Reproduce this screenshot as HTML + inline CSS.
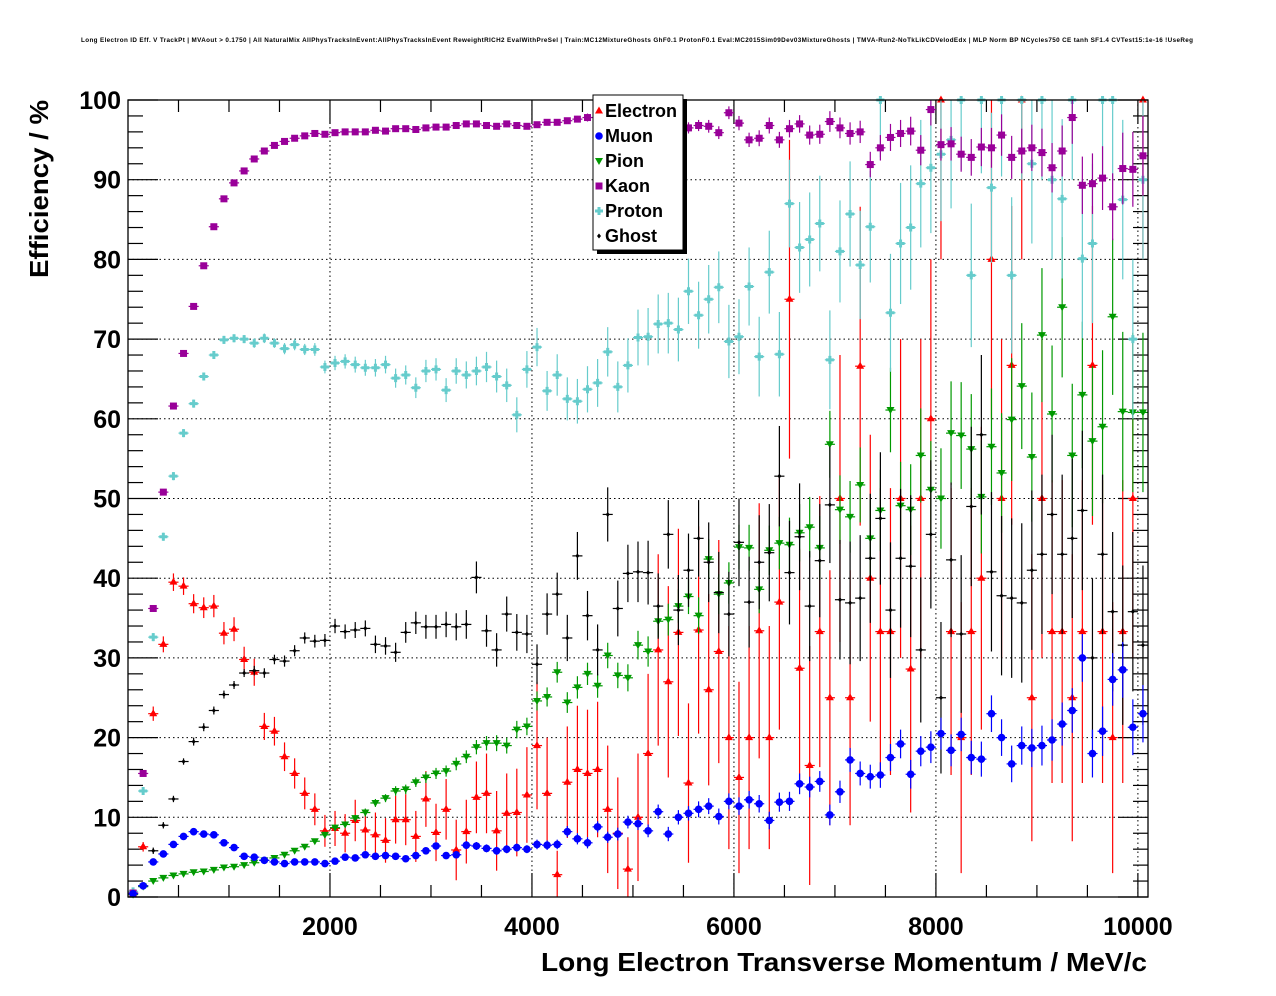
<!DOCTYPE html>
<html><head><meta charset="utf-8">
<style>
html,body{margin:0;padding:0;background:#fff;}
svg{display:block;font-family:"Liberation Sans",Arial,sans-serif;}
</style></head>
<body>
<svg id="chart" width="1276" height="996" viewBox="0 0 1276 996" xmlns="http://www.w3.org/2000/svg">
<text x="637" y="42" font-size="6.3" font-weight="bold" text-anchor="middle" textLength="1112">Long Electron ID Eff. V TrackPt | MVAout &gt; 0.1750 | All NaturalMix AllPhysTracksInEvent:AllPhysTracksInEvent ReweightRICH2 EvalWithPreSel | Train:MC12MixtureGhosts GhF0.1 ProtonF0.1 Eval:MC2015Sim09Dev03MixtureGhosts | TMVA-Run2-NoTkLikCDVelodEdx | MLP Norm BP NCycles750 CE tanh SF1.4 CVTest15:1e-16 !UseReg</text>
<g id="grid"></g>
<g id="axes"></g>
<g id="series"></g>
<rect x="128" y="100" width="1020" height="797" fill="none" stroke="#000" stroke-width="1.3"/>
<text transform="translate(48,278) rotate(-90)" font-size="26" font-weight="bold" textLength="178" lengthAdjust="spacingAndGlyphs">Efficiency / %</text>
<text x="541" y="971" font-size="26" font-weight="bold" textLength="606" lengthAdjust="spacingAndGlyphs">Long Electron Transverse Momentum / MeV/c</text>
<g id="legend">
<rect x="597" y="99" width="90" height="155" fill="#000"/>
<rect x="593" y="95" width="90" height="155" fill="#fff" stroke="#000" stroke-width="1"/>
</g>
</svg>
<script>
const xMin = 0, xMax = 10100, yMin = 0, yMax = 100;
const binWidth = 100;
const xTicks = [2000, 4000, 6000, 8000, 10000];
const xTickLabels = ["2000", "4000", "6000", "8000", "10000"];
const yTicks = [0, 10, 20, 30, 40, 50, 60, 70, 80, 90, 100];
const yTickLabels = ["0", "10", "20", "30", "40", "50", "60", "70", "80", "90", "100"];
const seriesNames = ["Electron", "Muon", "Pion", "Kaon", "Proton", "Ghost"];

const electron = [0.4,6.3,23.0,31.7,39.5,39.0,36.8,36.3,36.5,33.1,33.6,29.8,28.2,21.4,20.8,17.6,15.5,13.0,11.0,8.3,8.6,8.0,9.6,8.4,7.8,7.1,9.7,9.7,7.6,12.3,8.1,11.0,5.9,8.2,12.5,13.0,8.3,10.5,10.6,12.8,19.0,13.0,2.8,14.4,16.0,15.5,16.0,11.0,8.0,3.5,10.0,18.0,31.0,27.0,33.2,14.3,33.5,26.0,30.8,20.0,15.0,20.0,33.4,20.0,37.0,75.0,28.7,16.5,33.3,25.0,50.0,25.0,66.6,40.0,33.3,33.3,50.0,28.6,50.0,60.0,100,33.3,20.0,33.3,40.0,80.0,50.0,66.7,100,25.0,50.0,33.3,33.3,25.0,33.3,66.7,33.3,20.0,33.3,50.0,100];
const electronErr = [0.3,0.6,0.9,1.0,1.1,1.1,1.2,1.3,1.4,1.4,1.5,1.6,1.7,1.7,1.8,1.8,1.9,2.0,2.0,2.0,2.2,2.4,2.6,2.6,2.8,2.8,3.0,3.2,3.2,3.5,3.6,3.8,3.8,4.0,4.5,5.0,5.0,5.0,5.5,6.0,8.0,7.0,3.0,7.0,8.0,8.0,8.5,8.0,7.0,4.0,8.0,10,12,12,13,10,13,12,14,14,12,14,16,14,16,20,15,15,17,16,18,16,20,18,18,18,20,18,20,20,20,18,17,18,19,20,20,20,20,18,20,19,19,18,19,20,19,17,19,20,20];
const muon = [0.4,1.4,4.4,5.4,6.6,7.6,8.2,7.9,7.8,6.8,6.2,5.1,5.0,4.6,4.4,4.2,4.4,4.4,4.4,4.2,4.5,5.0,4.9,5.3,5.1,5.2,5.1,4.8,5.2,5.8,6.4,5.2,5.3,6.5,6.4,6.1,5.8,6.0,6.2,6.0,6.6,6.5,6.6,8.2,7.3,6.8,8.8,7.5,7.9,9.4,9.2,8.3,10.7,7.9,10.0,10.5,11.0,11.4,10.1,12.0,11.4,12.2,11.7,9.6,11.9,12.0,14.2,13.8,14.5,10.3,13.2,17.2,15.5,15.1,15.3,17.5,19.2,15.4,18.3,18.8,20.5,18.4,20.4,17.5,17.3,23.0,20.0,16.7,19.0,18.7,19.0,19.7,21.7,23.4,30.0,18.0,20.8,27.3,28.5,21.3,23.0];
const muonErr = [0.2,0.3,0.3,0.3,0.3,0.3,0.3,0.3,0.3,0.3,0.3,0.3,0.3,0.3,0.3,0.3,0.3,0.3,0.3,0.3,0.3,0.3,0.3,0.3,0.3,0.4,0.4,0.4,0.4,0.4,0.4,0.4,0.4,0.5,0.5,0.5,0.5,0.5,0.5,0.5,0.6,0.6,0.6,0.7,0.7,0.7,0.7,0.7,0.8,0.8,0.8,0.8,0.9,0.9,0.9,0.9,1.0,1.0,1.0,1.0,1.1,1.1,1.1,1.1,1.2,1.2,1.3,1.3,1.3,1.3,1.4,1.5,1.5,1.5,1.6,1.7,1.8,1.8,1.9,2.0,2.0,2.0,2.1,2.1,2.2,2.3,2.3,2.3,2.4,2.4,2.5,2.6,2.7,2.8,3.0,3.0,3.1,3.3,3.5,3.5,3.6];
const pion = [0.3,1.3,2.0,2.4,2.7,2.9,3.1,3.2,3.4,3.7,3.8,4.0,4.3,4.6,4.9,5.3,5.8,6.3,7.0,7.8,8.7,9.1,9.9,10.6,11.8,12.4,13.3,13.5,14.4,15.0,15.5,15.8,16.7,17.6,18.8,19.3,19.3,19.0,21.0,21.4,24.6,25.1,28.2,24.4,26.3,28.0,26.5,30.3,27.8,27.5,31.6,30.8,34.6,34.8,36.5,37.7,35.3,42.4,38.0,39.4,43.9,43.8,38.6,43.5,44.4,44.2,45.7,46.4,43.8,56.8,48.6,47.7,51.7,45.0,48.5,61.1,49.1,48.6,55.4,51.1,50.0,58.2,57.9,56.2,50.2,56.5,53.2,59.9,64.1,55.2,70.5,60.6,74.0,55.4,63.0,57.2,59.0,72.8,60.9,60.8,60.8];
const pionErr = [0.1,0.2,0.2,0.2,0.2,0.2,0.2,0.2,0.2,0.2,0.2,0.2,0.2,0.3,0.3,0.3,0.3,0.3,0.3,0.4,0.4,0.4,0.4,0.5,0.5,0.5,0.6,0.6,0.6,0.7,0.7,0.7,0.8,0.8,0.9,0.9,1.0,1.0,1.1,1.1,1.2,1.2,1.3,1.3,1.4,1.4,1.5,1.6,1.6,1.7,1.8,1.9,2.0,2.0,2.1,2.2,2.3,2.5,2.5,2.6,2.8,2.9,3.0,3.1,3.3,3.4,3.6,3.8,4.0,4.2,4.3,4.5,4.7,4.9,5.1,5.3,5.5,5.7,5.9,6.1,6.3,6.5,6.7,6.9,7.1,7.3,7.5,7.7,7.9,8.1,8.4,8.6,8.8,9.0,9.2,9.4,9.6,9.8,10,10,10];
const kaon = [0.5,15.5,36.2,50.8,61.6,68.2,74.1,79.2,84.1,87.6,89.6,91.1,92.6,93.6,94.3,94.8,95.2,95.5,95.8,95.7,95.9,96.0,96.0,96.0,96.2,96.1,96.4,96.4,96.3,96.5,96.6,96.6,96.8,97.0,97.0,96.8,96.7,97.0,96.8,96.7,96.9,97.2,97.2,97.4,97.6,97.8,97.2,97.7,97.9,96.8,97.6,97.5,97.6,97.0,97.4,96.5,96.8,96.7,95.9,98.4,97.1,95.0,95.2,96.8,95.0,96.4,97.0,95.6,95.7,97.3,96.5,95.8,96.0,91.9,94.0,95.3,95.8,96.1,93.7,98.8,94.4,94.5,93.2,92.8,94.1,94.0,95.6,92.8,93.6,94.0,93.4,91.5,93.6,97.8,89.3,89.5,90.2,86.6,91.4,91.3,93.0];
const kaonErr = [0.2,0.3,0.3,0.3,0.3,0.3,0.3,0.3,0.3,0.3,0.3,0.3,0.3,0.3,0.3,0.3,0.3,0.3,0.3,0.3,0.3,0.3,0.3,0.3,0.3,0.3,0.3,0.3,0.3,0.3,0.3,0.3,0.3,0.3,0.3,0.3,0.4,0.4,0.4,0.4,0.4,0.4,0.4,0.4,0.4,0.5,0.5,0.5,0.5,0.5,0.6,0.6,0.6,0.6,0.7,0.7,0.7,0.8,0.8,0.8,0.9,0.9,1.0,1.0,1.0,1.1,1.1,1.2,1.2,1.3,1.3,1.4,1.4,1.6,1.6,1.7,1.7,1.8,1.9,2.0,2.0,2.1,2.2,2.3,2.4,2.5,2.6,2.7,2.8,2.9,3.0,3.1,3.2,3.3,3.6,3.8,4.0,4.2,4.5,4.7,5.0];
const proton = [0.7,13.3,32.6,45.2,52.8,58.2,61.9,65.3,68.0,69.9,70.1,70.0,69.5,70.1,69.5,68.8,69.3,68.7,68.7,66.5,67.0,67.2,66.8,66.4,66.4,66.8,65.1,65.5,63.9,66.0,66.2,63.6,66.0,65.5,66.0,66.5,65.3,64.2,60.5,66.2,69.0,63.5,65.5,62.5,62.2,63.7,64.5,68.4,64.0,66.7,70.2,70.3,71.9,72.0,71.2,76.0,73.0,75.0,76.5,69.7,70.3,76.6,67.8,78.4,68.1,87.0,81.5,82.5,84.5,67.4,81.0,85.7,79.3,84.1,100,73.3,82.0,84.0,89.5,91.5,93.2,95.0,100,78.0,100,89.0,100,78.0,100,92.0,100,90.0,87.6,100,80.1,82.0,100,100,87.5,70.0,90.0];
const protonErr = [0.2,0.4,0.5,0.5,0.5,0.5,0.5,0.5,0.5,0.5,0.5,0.5,0.6,0.6,0.6,0.7,0.7,0.7,0.8,0.8,0.9,0.9,1.0,1.0,1.1,1.1,1.2,1.2,1.3,1.4,1.4,1.5,1.6,1.7,1.8,1.9,2.0,2.1,2.2,2.3,2.4,2.5,2.6,2.7,2.8,2.9,3.0,3.1,3.2,3.4,3.5,3.6,3.7,3.8,4.0,4.1,4.2,4.3,4.5,4.6,4.7,4.9,5.0,5.2,5.3,5.5,5.7,5.9,6.0,6.2,6.4,6.6,6.8,7.0,7.2,7.4,7.6,7.8,8.0,8.2,8.4,8.6,8.8,9.0,9.2,9.4,9.6,9.8,10,10,10,10,10,10,10,10,10,10,10,10,10];
const ghost = [0.5,1.4,5.8,9.0,12.3,17.0,19.5,21.3,23.4,25.4,26.6,28.1,28.4,28.1,29.8,29.6,30.9,32.5,32.1,32.2,34.0,33.3,33.5,33.7,31.7,31.5,30.7,33.2,34.4,33.9,33.9,34.2,33.9,34.2,40.1,33.4,31.0,35.5,33.2,33.0,29.2,35.5,38.0,32.5,42.8,35.3,31.0,48.0,36.2,40.6,40.8,40.7,36.5,45.5,36.0,41.0,45.0,42.0,38.2,35.5,44.5,37.0,42.0,43.2,52.8,40.7,45.2,36.5,42.2,49.2,37.3,36.9,37.5,42.5,47.5,36.0,42.5,41.5,31.0,45.5,25.0,42.3,33.0,49.0,58.0,40.8,37.8,37.5,36.9,41.0,43.0,48.0,43.0,45.0,48.5,30.0,43.0,35.8,31.6,35.8,31.6];
const ghostErr = [0.2,0.3,0.4,0.4,0.4,0.4,0.5,0.5,0.5,0.5,0.5,0.5,0.6,0.6,0.6,0.7,0.7,0.7,0.8,0.8,0.9,0.9,1.0,1.0,1.1,1.1,1.2,1.3,1.4,1.5,1.5,1.6,1.7,1.8,2.0,2.0,2.1,2.2,2.3,2.4,2.5,2.6,2.7,2.9,3.0,3.1,3.2,3.4,3.5,3.6,3.8,4.0,4.1,4.3,4.4,4.6,4.8,5.0,5.1,5.3,5.5,5.7,5.9,6.1,6.3,6.5,6.7,6.9,7.1,7.3,7.5,7.7,7.9,8.1,8.3,8.5,8.7,8.9,9.1,9.3,9.5,9.7,9.9,10,10,10,10,10,10,10,10,10,10,10,10,10,10,10,10,10,10];

const PX0 = 128, PX1 = 1148, PY0 = 897, PY1 = 100;
function xs(v){ return PX0 + (v - xMin) / (xMax - xMin) * (PX1 - PX0); }
function ys(v){ return PY0 - (Math.min(Math.max(v, yMin), yMax) - yMin) / (yMax - yMin) * (PY0 - PY1); }
const NS = "http://www.w3.org/2000/svg";
function mk(tag, attrs, parent){
  const e = document.createElementNS(NS, tag);
  for (const k in attrs) e.setAttribute(k, attrs[k]);
  parent.appendChild(e);
  return e;
}
const grid = document.getElementById('grid');
const axes = document.getElementById('axes');
const series = document.getElementById('series');

xTicks.forEach(t => {
  const l = mk('line', {x1: xs(t), x2: xs(t), y1: PY1, y2: PY0, stroke: '#000', 'stroke-width': 1, 'stroke-dasharray': '1.5,3'}, grid);
  
  
});
yTicks.forEach(t => {
  if (t === 0 || t === 100) return;
  const l = mk('line', {x1: PX0, x2: PX1, y1: ys(t), y2: ys(t), stroke: '#000', 'stroke-width': 1, 'stroke-dasharray': '1.5,3'}, grid);
  
  
});
for (let v = 500; v < xMax; v += 500) {
  const major = v % 2000 === 0;
  const len = major ? 24 : 12;
  mk('line', {x1: xs(v), x2: xs(v), y1: PY0, y2: PY0 - len, stroke: '#000', 'stroke-width': 1.2}, axes);
  mk('line', {x1: xs(v), x2: xs(v), y1: PY1, y2: PY1 + len, stroke: '#000', 'stroke-width': 1.2}, axes);
}
for (let v = 0; v <= yMax; v += 2) {
  const major = v % 10 === 0;
  const len = major ? 30 : 15;
  mk('line', {x1: PX0, x2: PX0 + len, y1: ys(v), y2: ys(v), stroke: '#000', 'stroke-width': 1.2}, axes);
  mk('line', {x1: PX1, x2: PX1 - len, y1: ys(v), y2: ys(v), stroke: '#000', 'stroke-width': 1.2}, axes);
}
xTicks.forEach((t, i) => {
  const tx = mk('text', {x: xs(t), y: 935, 'font-size': 25, 'font-weight': 'bold', 'text-anchor': 'middle'}, axes);
  tx.textContent = xTickLabels[i];
  
  
});
yTicks.forEach((t, i) => {
  const tx = mk('text', {x: 121, y: ys(t) + 9, 'font-size': 25, 'font-weight': 'bold', 'text-anchor': 'end'}, axes);
  tx.textContent = yTickLabels[i];
  
  
});

function marker(kind, x, y, color, parent){
  let m;
  if (kind === 'tri') m = mk('path', {d: `M${x},${y-4.5} L${x+4},${y+2.5} L${x-4},${y+2.5}Z`, fill: color}, parent);
  else if (kind === 'circ') m = mk('circle', {cx: x, cy: y, r: 3.8, fill: color}, parent);
  else if (kind === 'tridown') m = mk('path', {d: `M${x-4},${y-3} L${x+4},${y-3} L${x},${y+4}Z`, fill: color}, parent);
  else if (kind === 'sq') m = mk('rect', {x: x-3.5, y: y-3.5, width: 7, height: 7, fill: color}, parent);
  else if (kind === 'cross') m = mk('path', {d: `M${x-1.5},${y-4} h3 v2.5 h2.5 v3 h-2.5 v2.5 h-3 v-2.5 h-2.5 v-3 h2.5Z`, fill: color}, parent);
  else m = mk('path', {d: `M${x},${y-2.5} L${x+2},${y} L${x},${y+2.5} L${x-2},${y}Z`, fill: color}, parent);
  return m;
}

const defs = [
  {name: 'electron', vals: electron, errs: electronErr, color: '#ff0000', kind: 'tri'},
  {name: 'pion', vals: pion, errs: pionErr, color: '#009900', kind: 'tridown'},
  {name: 'ghost', vals: ghost, errs: ghostErr, color: '#000000', kind: 'dia'},
  {name: 'proton', vals: proton, errs: protonErr, color: '#66cccc', kind: 'cross'},
  {name: 'kaon', vals: kaon, errs: kaonErr, color: '#990099', kind: 'sq'},
  {name: 'muon', vals: muon, errs: muonErr, color: '#0000ff', kind: 'circ'}
];
defs.forEach(s => {
  const g = mk('g', {}, series);
  
  
  s.vals.forEach((v, i) => {
    const xc = xs((i + 0.5) * binWidth);
    const xl = xs(i * binWidth), xr = xs((i + 1) * binWidth);
    const y = ys(v);
    const e = s.errs[i];
    const pg = mk('g', {}, g);
    
    
    mk('line', {x1: xc, x2: xc, y1: ys(v + e), y2: ys(v - e), stroke: s.color, 'stroke-width': 1.2}, pg);
    mk('line', {x1: xl, x2: xr, y1: y, y2: y, stroke: s.color, 'stroke-width': 1.2}, pg);
    marker(s.kind, xc, y, s.color, pg);
  });
});

const legend = document.getElementById('legend');
const legendMeta = [
  ['tri', '#ff0000'], ['circ', '#0000ff'], ['tridown', '#009900'],
  ['sq', '#990099'], ['cross', '#66cccc'], ['dia', '#000000']
];
seriesNames.forEach((n, i) => {
  const yy = 111 + i * 25;
  const g = mk('g', {}, legend);
  
  
  marker(legendMeta[i][0], 599, yy, legendMeta[i][1], g);
  const t = mk('text', {x: 605, y: yy + 6, 'font-size': 18, 'font-weight': 'bold'}, g);
  t.textContent = n;
});
</script>
</body></html>
